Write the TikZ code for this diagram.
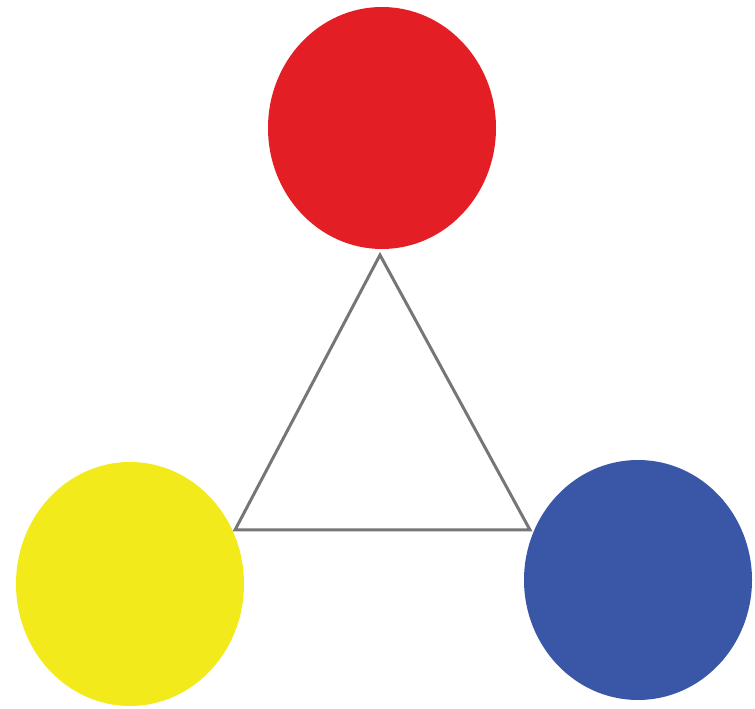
\documentclass[tikz,border=0pt]{standalone}
\usetikzlibrary{shapes.geometric}
\definecolor{cred}{HTML}{E31E24}
\definecolor{cyellow}{HTML}{F2EA1A}
\definecolor{cblue}{HTML}{3A57A7}
\definecolor{cline}{HTML}{767676}
\begin{document}
\begin{tikzpicture}[x=1pt,y=1pt,
  dot/.style={ellipse,inner sep=0pt,draw=none},
  edge/.style={draw=cline,line width=3pt,line join=miter}]
\useasboundingbox (0,0) rectangle (755,709);
\node[dot,fill=cred,minimum width=228pt,minimum height=242pt] (red) at (382,581) {};
\node[dot,fill=cyellow,minimum width=228pt,minimum height=244pt] (yellow) at (130,125) {};
\node[dot,fill=cblue,minimum width=228pt,minimum height=240pt] (blue) at (638,129) {};
\coordinate (t) at (380,454);
\coordinate (l) at (235,179);
\coordinate (r) at (530,179);
\draw[edge] (t) -- (l) -- (r) -- cycle;
\end{tikzpicture}
\end{document}
